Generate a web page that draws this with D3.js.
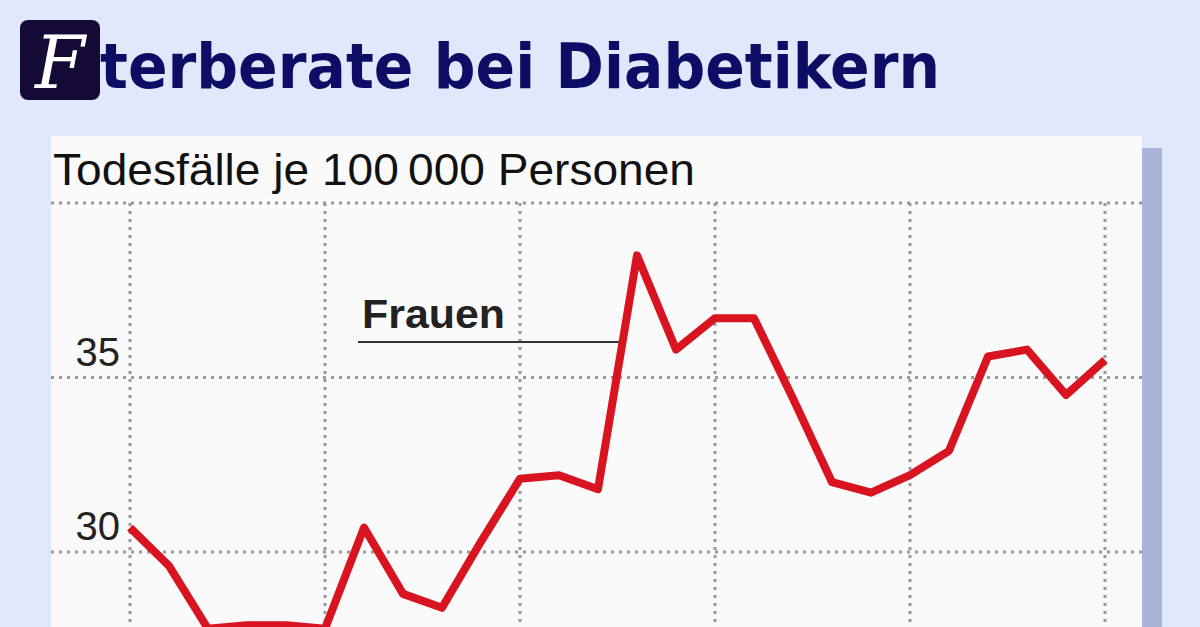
<!DOCTYPE html>
<html><head><meta charset="utf-8">
<script src="https://cdn.jsdelivr.net/npm/d3@7"></script>
<style>body{margin:0;background:#e0e9fc;}svg{display:block}</style>
</head><body><svg id="c" width="1200" height="627"></svg>
<script>
const years = d3.range(0, 26);
const frauen = [30.7,29.6,27.8,27.9,27.9,27.8,30.7,28.8,28.4,30.3,32.1,32.2,31.8,38.5,35.8,36.7,36.7,34.4,32.0,31.7,32.2,32.9,35.6,35.8,34.5,35.5];
const yTicks = [30,35,40];
const yLabels = ["30","35"];
const svg = d3.select("#c");
const x = d3.scaleLinear().domain([0,25]).range([130,1105]);
const y = d3.scaleLinear().domain([30,40]).range([552,203]);
// shadow + panel
svg.append("rect").attr("x",1142).attr("y",148).attr("width",20).attr("height",480).attr("fill","#aab4d8");
svg.append("rect").attr("x",51).attr("y",136).attr("width",1091).attr("height",500).attr("fill","#fafafa");
// title
svg.append("text").attr("x",100).attr("y",88).attr("font-family","DejaVu Sans").attr("font-weight","bold")
 .attr("font-size",62).attr("fill","#0d0d66").attr("textLength",840).attr("lengthAdjust","spacingAndGlyphs").text("terberate bei Diabetikern");
svg.append("rect").attr("x",20).attr("y",20).attr("width",80).attr("height",80).attr("rx",8).attr("fill","#140a35");
svg.append("text").attr("x",60).attr("y",88).attr("text-anchor","middle").attr("font-family","DejaVu Serif").attr("font-style","italic").attr("font-size",72).attr("fill","#fff").text("F");
// subtitle
svg.append("text").attr("x",53).attr("y",185).attr("font-family","Liberation Sans").attr("font-size",44).attr("fill","#111")
 .attr("textLength",642).attr("lengthAdjust","spacingAndGlyphs").text("Todesfälle je 100\u2009000 Personen");
// grid
const g = svg.append("g");
g.selectAll(".h").data(yTicks).join("line").attr("x1",51).attr("x2",1142).attr("y1",d=>y(d)).attr("y2",d=>y(d))
 .attr("stroke","#999").attr("stroke-width",3).attr("stroke-dasharray","3,5");
g.selectAll(".v").data(years.filter(d=>d%5===0)).join("line").attr("x1",d=>x(d)).attr("x2",d=>x(d)).attr("y1",y(40)).attr("y2",627)
 .attr("stroke","#999").attr("stroke-width",3).attr("stroke-dasharray","3,5");
g.selectAll(".yl").data(yLabels).join("text").attr("x",120).attr("y",d=>y(+d)-12).attr("text-anchor","end")
 .attr("font-family","Liberation Sans").attr("font-size",40).attr("fill","#222").text(d=>d);
// annotation
svg.append("text").attr("x",362).attr("y",328).attr("font-family","Liberation Sans").attr("font-weight","bold").attr("font-size",40).attr("fill","#222")
 .attr("textLength",143).attr("lengthAdjust","spacingAndGlyphs").text("Frauen");
svg.append("line").attr("x1",358).attr("x2",622).attr("y1",342).attr("y2",342).attr("stroke","#333").attr("stroke-width",2);
// line
svg.append("path").datum(frauen).attr("fill","none").attr("stroke","#d81420").attr("stroke-width",8).attr("stroke-linejoin","round")
 .attr("d",d3.line().x((d,i)=>x(years[i])).y(d=>y(d)));
</script></body></html>
